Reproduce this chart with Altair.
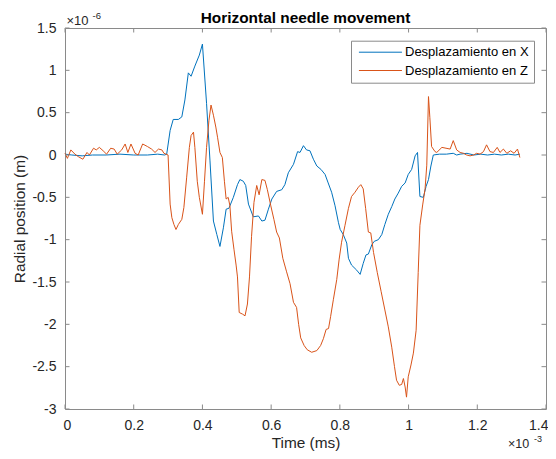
import altair as alt
import pandas as pd

# ---------------- data (time in 1e-3 ms units, position in 1e-6 m units) ----------------
series_names = ["Desplazamiento en X", "Desplazamiento en Z"]
series_colors = ["#0072BD", "#D95319"]

tx = [0, 0.02, 0.05, 0.08, 0.12, 0.16, 0.2, 0.24, 0.27, 0.29, 0.296, 0.306, 0.315, 0.33, 0.34,
      0.349, 0.359, 0.367, 0.378, 0.391, 0.4, 0.412, 0.422, 0.432, 0.442, 0.451, 0.461, 0.469,
      0.477, 0.49, 0.502, 0.509, 0.519, 0.526, 0.534, 0.548, 0.563, 0.573, 0.582, 0.592, 0.602,
      0.616, 0.631, 0.64, 0.65, 0.665, 0.677, 0.684, 0.694, 0.703, 0.713, 0.723, 0.733, 0.745,
      0.757, 0.766, 0.776, 0.786, 0.796, 0.801, 0.81, 0.82, 0.825, 0.834, 0.849, 0.859, 0.868,
      0.876, 0.883, 0.893, 0.9, 0.912, 0.922, 0.931, 0.941, 0.951, 0.96, 0.97, 0.98, 0.99, 0.999,
      1.009, 1.019, 1.026, 1.033, 1.043, 1.051, 1.058, 1.065, 1.072, 1.09, 1.11, 1.13, 1.14, 1.15,
      1.17, 1.19, 1.21, 1.23, 1.25, 1.27, 1.29, 1.31, 1.324]
vx = [0.01, 0.0, -0.01, 0.0, 0.0, 0.01, 0.0, 0.0, 0.01, 0.0, 0.01, 0.29, 0.42, 0.42, 0.45,
      0.65, 0.97, 0.93, 1.05, 1.18, 1.31, 0.61, -0.07, -0.78, -0.94, -1.08, -0.86, -0.64,
      -0.63, -0.5, -0.35, -0.29, -0.31, -0.36, -0.58, -0.73, -0.72, -0.78, -0.77, -0.64, -0.52,
      -0.43, -0.41, -0.35, -0.21, -0.11, 0.04, 0.03, 0.11, 0.06, 0.05, -0.05, -0.13, -0.17,
      -0.23, -0.33, -0.44, -0.6, -0.8, -0.88, -0.94, -1.04, -1.22, -1.3, -1.36, -1.41, -1.28,
      -1.18, -1.17, -1.06, -1.02, -1.0, -0.94, -0.82, -0.7, -0.61, -0.52, -0.45, -0.37, -0.33, -0.23,
      -0.17, -0.01, 0.03, -0.49, -0.5, -0.37, -0.29, -0.13, 0.0, 0.01, 0.01, 0.02, 0.0, 0.01,
      0.02, 0.0, 0.01, 0.0, 0.01, 0.0, 0.01, 0.0, 0.01]

tz = [0, 0.007, 0.017, 0.029, 0.039, 0.052, 0.064, 0.071, 0.083, 0.091, 0.1, 0.111, 0.121, 0.133,
      0.143, 0.152, 0.165, 0.175, 0.183, 0.192, 0.204, 0.213, 0.226, 0.24, 0.252, 0.262, 0.272,
      0.282, 0.288, 0.294, 0.3, 0.306, 0.311, 0.317, 0.323, 0.33, 0.34, 0.346, 0.354, 0.362, 0.367,
      0.374, 0.378, 0.385, 0.391, 0.4, 0.406, 0.412, 0.419, 0.425, 0.432, 0.439, 0.444, 0.451,
      0.458, 0.464, 0.469, 0.475, 0.48, 0.485, 0.492, 0.498, 0.502, 0.507, 0.517, 0.524, 0.531,
      0.537, 0.543, 0.55, 0.558, 0.565, 0.573, 0.582, 0.589, 0.599, 0.608, 0.616, 0.624, 0.634,
      0.645, 0.655, 0.665, 0.674, 0.68, 0.686, 0.696, 0.705, 0.718, 0.733, 0.744, 0.752, 0.76,
      0.767, 0.773, 0.781, 0.791, 0.798, 0.805, 0.815, 0.825, 0.834, 0.844, 0.854, 0.861, 0.868,
      0.875, 0.883, 0.89, 0.898, 0.909, 0.92, 0.931, 0.941, 0.951, 0.959, 0.965, 0.973, 0.98,
      0.985, 0.99, 0.994, 0.999, 1.007, 1.014, 1.022, 1.028, 1.033, 1.041, 1.048, 1.053, 1.058,
      1.062, 1.067, 1.077, 1.082, 1.097, 1.109, 1.121, 1.13, 1.14, 1.15, 1.16, 1.169, 1.179,
      1.189, 1.198, 1.208, 1.218, 1.227, 1.237, 1.247, 1.258, 1.266, 1.276, 1.286, 1.297, 1.307,
      1.317, 1.324]
vz = [0.02, -0.04, 0.06, 0.01, -0.02, -0.05, 0.03, 0.0, 0.08, 0.06, 0.09, 0.05, 0.01, 0.08,
      0.07, 0.01, 0.06, 0.13, 0.03, 0.13, 0.02, 0.0, 0.13, 0.1, 0.07, 0.03, 0.07,
      0.06, 0.02, 0.01, 0.0, -0.58, -0.74, -0.82, -0.88, -0.82, -0.76, -0.62, -0.27, 0.09, 0.23,
      0.27, 0.09, -0.31, -0.5, -0.7, -0.31, 0.09, 0.41, 0.59, 0.47, 0.33, 0.21, 0.03,
      -0.03, -0.31, -0.52, -0.5, -0.6, -0.9, -1.12, -1.3, -1.44, -1.86, -1.88, -1.9, -1.76,
      -1.44, -0.96, -0.56, -0.36, -0.47, -0.29, -0.3, -0.41, -0.6, -0.76, -0.91, -0.98, -1.22,
      -1.38, -1.52, -1.74, -1.8, -2.0, -2.16, -2.25, -2.3, -2.33, -2.31, -2.25, -2.17, -2.06,
      -2.05, -1.91, -1.71, -1.47, -1.23, -1.03, -0.83, -0.63, -0.49, -0.44, -0.38, -0.35, -0.4,
      -0.63, -0.91, -0.92, -1.15, -1.39, -1.61, -1.83, -2.03, -2.27, -2.5, -2.66, -2.72, -2.71,
      -2.64, -2.74, -2.86, -2.62, -2.48, -2.34, -2.07, -1.39, -0.83, -0.59, -0.4, -0.12, 0.69,
      0.44, 0.1, 0.04, 0.03, 0.09, 0.08, 0.07, 0.17, 0.06, 0.03, 0.02, 0.0, -0.01,
      0.0, 0.02, 0.01, 0.04, 0.12, 0.04, 0.03, 0.09, 0.03, 0.07, 0.02, 0.05, 0.02,
      0.07, -0.03]

x_ticks = [0, 0.2, 0.4, 0.6, 0.8, 1, 1.2, 1.4]
y_ticks = [-3, -2.5, -2, -1.5, -1, -0.5, 0, 0.5, 1, 1.5]

title_text = ["Horizontal needle movement"]
x_title = "Time (ms)"
y_title = "Radial position (m)"
mult_base = ["\u00d710"]
y_exp = ["-6"]
x_exp = ["-3"]

FONT = "Liberation Sans"
W, H = 481, 381
AX = "#262626"
BOX = "#8a8a8a"

df = pd.concat([
    pd.DataFrame({"t": tx, "v": vx, "series": series_names[0], "order": range(len(tx))}),
    pd.DataFrame({"t": tz, "v": vz, "series": series_names[1], "order": range(len(tz))}),
])

xscale = alt.Scale(domain=[0, 1.4], nice=False, zero=False)
yscale = alt.Scale(domain=[-3, 1.5], nice=False, zero=False)

lines = alt.Chart(df).mark_line(strokeWidth=1).encode(
    x=alt.X("t:Q", scale=xscale, axis=alt.Axis(
        values=x_ticks, labelExpr="'' + datum.value", title=x_title, domain=False,
        ticks=False, tickSize=0, grid=False, labelFontSize=14, labelColor=AX,
        labelPadding=9, labelFlush=True, labelFlushOffset=2, labelOverlap=False,
        titleFontSize=15.4, titleFontWeight="normal", titleColor=AX, titlePadding=3)),
    y=alt.Y("v:Q", scale=yscale, axis=alt.Axis(
        values=y_ticks, labelExpr="'' + datum.value", title=y_title, domain=False,
        ticks=False, tickSize=0, grid=False, labelFontSize=14, labelColor=AX,
        labelPadding=9, labelFlush=False, labelOverlap=False, titleFontSize=15.4,
        titleFontWeight="normal", titleColor=AX, titlePadding=4)),
    color=alt.Color("series:N", scale=alt.Scale(domain=series_names, range=series_colors),
                    legend=alt.Legend(title=None, orient="none", legendX=286, legendY=12.7,
                                      symbolType="M-1,0H11", symbolSize=51.4,
                                      symbolStrokeWidth=1, labelOffset=36,
                                      labelFontSize=13, labelFont=FONT, labelColor="#000000",
                                      strokeColor=BOX, fillColor="white", padding=5,
                                      rowPadding=4.3, cornerRadius=0)),
    order="order:Q",
)

xt = pd.DataFrame({"t": x_ticks})
yt = pd.DataFrame({"v": y_ticks})
TL = 4.5
tick_bottom = alt.Chart(xt).mark_rule(color=BOX, strokeWidth=1).encode(
    x=alt.X("t:Q", scale=xscale), y=alt.value(H), y2=alt.value(H - TL))
tick_top = alt.Chart(xt).mark_rule(color=BOX, strokeWidth=1).encode(
    x=alt.X("t:Q", scale=xscale), y=alt.value(0), y2=alt.value(TL))
tick_left = alt.Chart(yt).mark_rule(color=BOX, strokeWidth=1).encode(
    y=alt.Y("v:Q", scale=yscale), x=alt.value(0), x2=alt.value(TL))
tick_right = alt.Chart(yt).mark_rule(color=BOX, strokeWidth=1).encode(
    y=alt.Y("v:Q", scale=yscale), x=alt.value(W), x2=alt.value(W - TL))

title = alt.Chart(pd.DataFrame({"s": title_text})).mark_text(
    font=FONT, fontSize=15.4, fontWeight="bold", color="#000000", align="center",
    baseline="alphabetic").encode(text="s:N", x=alt.value(W / 2), y=alt.value(-5))

ym_base = alt.Chart(pd.DataFrame({"s": mult_base})).mark_text(
    font=FONT, fontSize=13, color=AX, align="left", baseline="alphabetic").encode(
    text="s:N", x=alt.value(1.5), y=alt.value(-3))
ym_exp = alt.Chart(pd.DataFrame({"s": y_exp})).mark_text(
    font=FONT, fontSize=9.5, color=AX, align="left", baseline="alphabetic").encode(
    text="s:N", x=alt.value(27.5), y=alt.value(-9.5))
xm_base = alt.Chart(pd.DataFrame({"s": mult_base})).mark_text(
    font=FONT, fontSize=12.5, color=AX, align="left", baseline="alphabetic").encode(
    text="s:N", x=alt.value(443), y=alt.value(420))
xm_exp = alt.Chart(pd.DataFrame({"s": x_exp})).mark_text(
    font=FONT, fontSize=9, color=AX, align="left", baseline="alphabetic").encode(
    text="s:N", x=alt.value(469), y=alt.value(414))

chart = alt.layer(
    lines, tick_bottom, tick_top, tick_left, tick_right, title, ym_base, ym_exp, xm_base, xm_exp
).properties(
    width=W, height=H,
    autosize=alt.AutoSizeParams(type="none"),
    padding={"left": 57, "top": 20, "right": 2, "bottom": 42},
    background="white",
).configure(font=FONT).configure_view(stroke=BOX, strokeWidth=1)

chart.save("out.html", embed_options={"renderer": "svg", "actions": False})
